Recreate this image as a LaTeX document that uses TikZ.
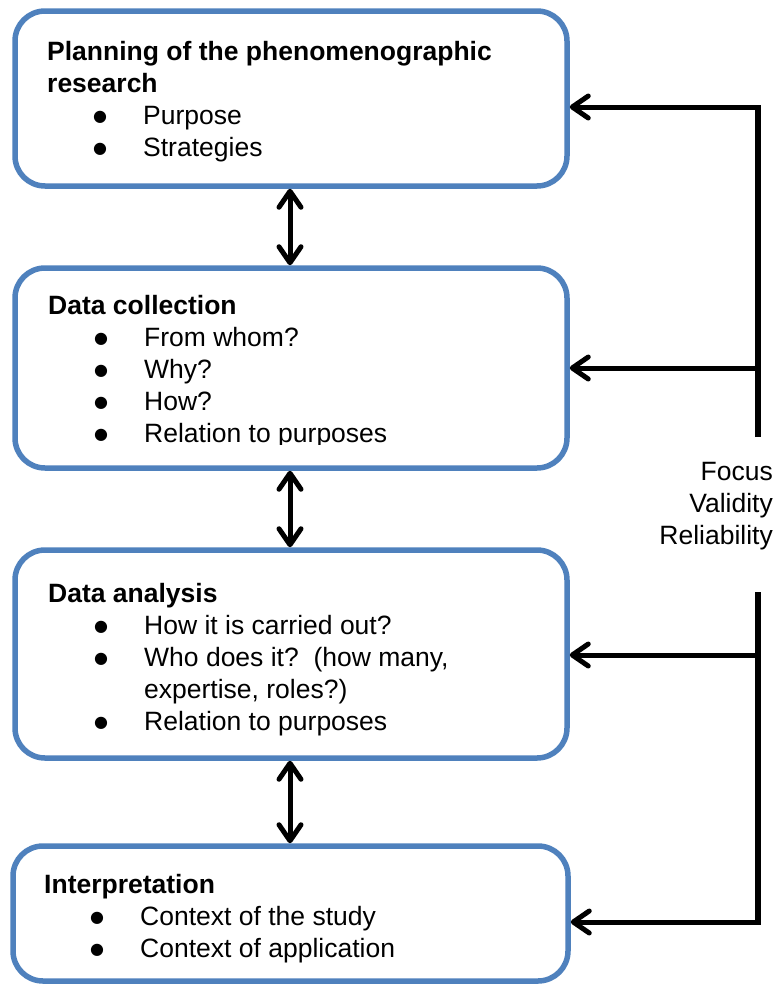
\documentclass[tikz,border=0pt]{standalone}
\usepackage{fontspec}
\setmainfont{Liberation Sans}
\newfontfamily\symfont{DejaVu Sans}
\usetikzlibrary{arrows.meta}
\definecolor{boxblue}{RGB}{79,129,189}
% bullet glyph and indented list line
\newcommand{\bulletmark}{\raisebox{2.5pt}{\fontsize{16}{16}\selectfont\symfont ●}}
\newcommand{\itemline}[1]{\hspace*{53pt}\makebox[0pt]{\bulletmark}\hspace*{43pt}#1}
\newcommand{\contline}[1]{\hspace*{96pt}#1}
\tikzset{
  stage/.style={draw=boxblue, line width=5.5pt, rounded corners=30pt, fill=white,
                inner sep=0pt},
  stagetext/.style={anchor=base west, inner sep=0pt,
                    font=\fontsize{26.5}{32}\selectfont},
  sidetext/.style={anchor=base east, inner sep=0pt,
                   font=\fontsize{26.5}{32}\selectfont},
  link/.style={line width=5pt, {Straight Barb[length=16pt,width=22pt,round]}-{Straight Barb[length=16pt,width=22pt,round]}},
  feedback/.style={line width=5pt, -{Straight Barb[length=16pt,width=22pt,round]}},
  rail/.style={line width=5.5pt}
}
\begin{document}
\begin{tikzpicture}[x=1pt,y=-1pt]
\useasboundingbox (0,0) rectangle (777,985);

% stage boxes
\node[stage, minimum width=552pt, minimum height=175pt] (plan) at (291,98.5) {};
\node[stage, minimum width=552pt, minimum height=200pt] (coll) at (291,368) {};
\node[stage, minimum width=552pt, minimum height=208pt] (anal) at (291,654) {};
\node[stage, minimum width=555pt, minimum height=135pt] (interp) at (290.5,913.5) {};

% box contents
\node[stagetext] (plantext) at (47,60) {\parbox[t]{500pt}{%
  \textbf{Planning of the phenomenographic}\\
  \textbf{research}\\
  \itemline{Purpose}\\
  \itemline{Strategies}}};

% last line of this list is cut off just below its baseline
\begin{scope}
\clip (0,0) rectangle (777,444.5);
\node[stagetext] (colltext) at (48,314) {\parbox[t]{500pt}{%
  \textbf{Data collection}\\
  \itemline{From whom?}\\
  \itemline{Why?}\\
  \itemline{How?}\\
  \itemline{Relation to purposes}}};
\end{scope}

\node[stagetext] (analtext) at (48,602) {\parbox[t]{500pt}{%
  \textbf{Data analysis}\\
  \itemline{How it is carried out?}\\
  \itemline{Who does it?\ \ (how many,}\\
  \contline{expertise, roles?)}\\
  \itemline{Relation to purposes}}};

\node[stagetext] (interptext) at (44,893) {\parbox[t]{500pt}{%
  \textbf{Interpretation}\\
  \itemline{Context of the study}\\
  \itemline{Context of application}}};

% links between consecutive stages
\draw[link] (plan.south -| 290,0) -- (coll.north -| 290,0);
\draw[link] (coll.south -| 290,0) -- (anal.north -| 290,0);
\draw[link] (anal.south -| 290,0) -- (interp.north -| 290,0);

% side rail with feedback arrows
\coordinate (railtop) at (758,107);
\coordinate (railgap1) at (758,437);
\coordinate (railcoll) at (758,368);
\coordinate (railgap2) at (758,592);
\coordinate (railanal) at (758,655);
\coordinate (railbot) at (758,922);

\draw[rail] (railgap1) -- (railtop);
\draw[feedback] ([xshift=2.75pt]railtop) -- (plan.east |- railtop);
\draw[feedback] (railcoll) -- (coll.east |- railcoll);
\draw[rail] (railgap2) -- (railbot);
\draw[feedback] (railanal) -- (anal.east |- railanal);
\draw[feedback] ([xshift=2.75pt]railbot) -- (interp.east |- railbot);

\node[sidetext] (criteria) at (773,480) {\parbox[t]{150pt}{\raggedleft
  Focus\\ Validity\\ Reliability}};
\end{tikzpicture}
\end{document}
